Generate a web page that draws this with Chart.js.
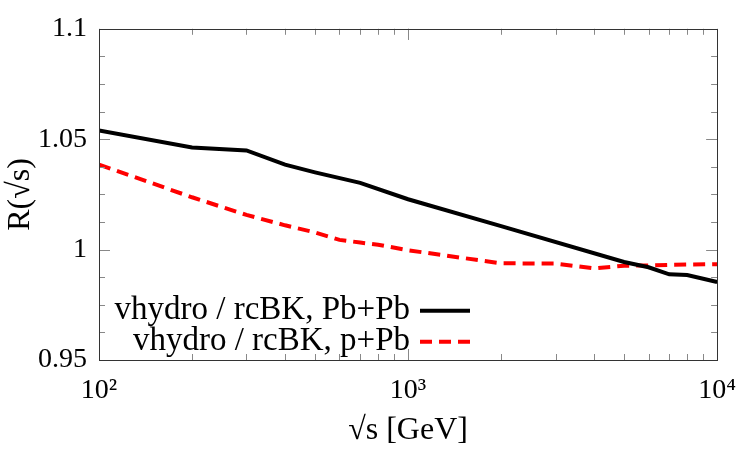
<!DOCTYPE html>
<html>
<head>
<meta charset="utf-8">
<script src="https://cdn.jsdelivr.net/npm/chart.js@4/dist/chart.umd.min.js"></script>
<style>
html,body{margin:0;padding:0;background:#fff;}
#wrap{width:750px;height:450px;}
</style>
</head>
<body>
<div id="wrap"><canvas id="c" width="750" height="450"></canvas></div>
<script>
// ---- data ----
const pbpbEnergy = [100, 200, 300, 400, 500, 700, 1000, 2000, 5000, 6000, 7000, 8000, 10000];
const pbpbRatio  = [1.0540, 1.0462, 1.0449, 1.0385, 1.0350, 1.0302, 1.0228, 1.0106, 0.9944, 0.9920, 0.9888, 0.9885, 0.9853];
const ppbEnergy  = [100, 200, 300, 400, 500, 600, 700, 800, 1000, 2000, 3000, 4000, 5000, 6000, 7000, 10000];
const ppbRatio   = [1.0385, 1.0237, 1.0157, 1.0110, 1.0078, 1.0044, 1.0032, 1.0022, 0.9997, 0.9938, 0.9937, 0.9915, 0.9927, 0.9928, 0.9931, 0.9934];
const seriesLabels = ['vhydro / rcBK, Pb+Pb', 'vhydro / rcBK, p+Pb'];
const yTickValues = [0.95, 1.0, 1.05, 1.1];
const xTickLabels = {100: '10\u00B2', 1000: '10\u00B3', 10000: '10\u2074'};
const xTitle = '\u221As [GeV]';
const yTitle = 'R(\u221As)';

const FONT = "'Liberation Serif', 'Times New Roman', serif";
const FS = 28;      // tick labels
const FS_TITLE = 32;
const FS_KEY = 33;

const frameTicks = {
  id: 'frameTicks',
  afterDatasetsDraw(chart) {
    const {ctx, chartArea: a, scales} = chart;
    const xs = scales.x, ys = scales.y;
    ctx.save();
    ctx.strokeStyle = '#888';
    ctx.lineWidth = 1;
    ctx.beginPath();
    // y ticks (major every 0.05, minor every 0.0125)
    for (let i = 0; i <= 12; i++) {
      const v = 0.95 + i * 0.0125;
      const y = Math.round(ys.getPixelForValue(v)) + 0.5;
      const len = (i % 4 === 0) ? 11 : 6;
      ctx.moveTo(a.left, y); ctx.lineTo(a.left + len, y);
      ctx.moveTo(a.right, y); ctx.lineTo(a.right - len, y);
    }
    // x ticks (log)
    for (let d = 100; d < 10000; d *= 10) {
      for (let m = 1; m <= 10; m++) {
        const v = d * m;
        const x = Math.round(xs.getPixelForValue(v)) + 0.5;
        const len = (m === 1 || m === 10) ? 11 : 6;
        ctx.moveTo(x, a.bottom); ctx.lineTo(x, a.bottom - len);
        ctx.moveTo(x, a.top); ctx.lineTo(x, a.top + len);
      }
    }
    ctx.stroke();
    // frame
    ctx.strokeStyle = '#333';
    ctx.strokeRect(Math.round(a.left) + 0.5, Math.round(a.top) + 0.5,
                   Math.round(a.right - a.left), Math.round(a.bottom - a.top));
    // legend (inside, right-aligned text with line samples)
    ctx.font = FS_KEY + 'px ' + FONT;
    ctx.textAlign = 'right';
    ctx.textBaseline = 'middle';
    ctx.fillStyle = '#000';
    const rows = [
      {label: seriesLabels[0], color: '#000000', dash: []},
      {label: seriesLabels[1], color: '#ff0000', dash: [12, 7]}
    ];
    rows.forEach((r, i) => {
      const y = a.top + 282 + i * 31;
      ctx.fillText(r.label, a.left + 311, y);
      ctx.beginPath();
      ctx.setLineDash(r.dash);
      ctx.strokeStyle = r.color;
      ctx.lineWidth = 4;
      ctx.moveTo(a.left + 321, y); ctx.lineTo(a.left + 371, y);
      ctx.stroke();
      ctx.setLineDash([]);
    });
    ctx.restore();
  }
};

new Chart(document.getElementById('c'), {
  type: 'line',
  data: {
    datasets: [
      {
        label: seriesLabels[0],
        data: pbpbEnergy.map((x, i) => ({x, y: pbpbRatio[i]})),
        borderColor: '#000000',
        borderWidth: 4,
        pointRadius: 0,
        tension: 0,
        fill: false
      },
      {
        label: seriesLabels[1],
        data: ppbEnergy.map((x, i) => ({x, y: ppbRatio[i]})),
        borderColor: '#ff0000',
        borderWidth: 4,
        borderDash: [12, 7],
        pointRadius: 0,
        tension: 0,
        fill: false
      }
    ]
  },
  options: {
    responsive: false,
    animation: false,
    devicePixelRatio: 1,
    layout: {padding: {top: 20, right: 29, left: 0, bottom: 0}},
    plugins: {legend: {display: false}, tooltip: {enabled: false}},
    scales: {
      x: {
        type: 'logarithmic',
        min: 100, max: 10000,
        grid: {display: false, drawTicks: false},
        border: {display: false},
        afterFit(s) { s.height = 90; },
        afterBuildTicks(s) { s.ticks = Object.keys(xTickLabels).map(v => ({value: +v})); },
        ticks: {
          autoSkip: false,
          maxRotation: 0,
          padding: 14,
          color: '#000',
          font: {family: FONT, size: FS},
          callback: v => xTickLabels[v] || ''
        },
        title: {display: true, text: xTitle, color: '#000', font: {family: FONT, size: FS_TITLE}, padding: {top: 0, bottom: 0}}
      },
      y: {
        min: 0.95, max: 1.1,
        grid: {display: false, drawTicks: false},
        border: {display: false},
        afterFit(s) { s.width = 99; },
        afterBuildTicks(s) { s.ticks = yTickValues.map(v => ({value: v})); },
        ticks: {
          padding: 12,
          color: '#000',
          font: {family: FONT, size: FS},
          callback: v => String(Number(v.toFixed(4)))
        },
        title: {display: true, text: yTitle, color: '#000', font: {family: FONT, size: FS_TITLE}, padding: {top: 1, bottom: 0}}
      }
    }
  },
  plugins: [frameTicks]
});
</script>
</body>
</html>
